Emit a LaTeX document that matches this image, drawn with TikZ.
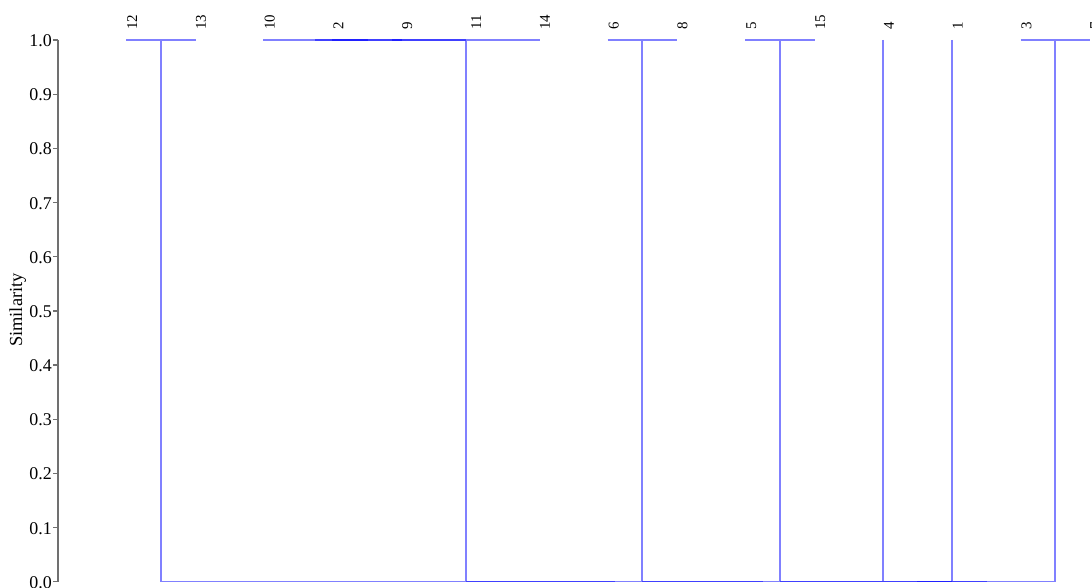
\documentclass[tikz,border=0pt]{standalone}
\usepackage{fontspec}
\setmainfont{Liberation Serif}
\definecolor{dendA}{RGB}{128,128,255}
\definecolor{dendB}{RGB}{64,64,255}
\definecolor{dendC}{RGB}{32,32,255}
\definecolor{axisgray}{RGB}{112,112,112}
\tikzset{
  seg/.style={draw=dendA, line width=1.5bp},
  segB/.style={draw=dendB, line width=1.5bp},
  segC/.style={draw=dendC, line width=1.5bp},
  leaflabel/.style={rotate=90, anchor=base west, inner sep=0pt, font=\fontsize{15}{15}\selectfont},
  ticklabel/.style={anchor=east, inner sep=0pt, font=\fontsize{18}{18}\selectfont},
  axisline/.style={draw=axisgray, line width=1.3bp},
}
\begin{document}
\begin{tikzpicture}[x=1bp,y=-1bp]
\useasboundingbox (0,0) rectangle (1092,588);
% axis
\coordinate (ax0) at (58,581.7);
\coordinate (ax1) at (58,40);
\draw[axisline] (ax0) -- (ax1);
\foreach \v/\t in {0/0.0,1/0.1,2/0.2,3/0.3,4/0.4,5/0.5,6/0.6,7/0.7,8/0.8,9/0.9,10/1.0}{
  \coordinate (tk\v) at (58,{581.7-54.17*\v});
  \coordinate (tl\v) at (53,{581.7-54.17*\v});
  \draw[axisline] (tk\v) -- (tl\v);
  \node[ticklabel] (lab\v) at (52,{582.5-54.17*\v}) {\t};
}
\node[rotate=90, anchor=base, inner sep=0pt, font=\fontsize{18.5}{18.5}\selectfont] (ylab) at (22,310) {Similarity};
% leaf labels
\foreach \k/\n in {0/12,1/13,2/10,3/2,4/9,5/11,6/14,7/6,8/8,9/5,10/15,11/4,12/1,13/3,14/7}{
  \node[leaflabel] (leaf\n) at ({126+68.8*\k+11},30) {\n};
}
% verticals
\foreach \n/\x in {v1/161, v2/466, v3/642, v4/780, v5/883, v6/952, v7/1055}{
  \coordinate (\n t) at (\x,40);
  \coordinate (\n b) at (\x,581.7);
  \draw[seg] (\n t) -- (\n b);
}
% top horizontal bars
\foreach \n/\a/\b in {a/126/196, c/607.5/677, d/745/814.5, e/1020.5/1090}{
  \coordinate (h\n1) at (\a,40);
  \coordinate (h\n2) at (\b,40);
  \draw[seg] (h\n1) -- (h\n2);
}
% cluster 10..14 (darker where branches overlap)
\coordinate (b1s) at (263,40);  \coordinate (b1e) at (540,40);
\coordinate (b2s) at (315,40);  \coordinate (b2e) at (466,40);
\coordinate (b3s) at (332,40);  \coordinate (b3e) at (368,40);
\coordinate (b4s) at (392,40);  \coordinate (b4e) at (402,40);
\draw[seg] (b1s) -- (b1e);
\draw[segB] (b2s) -- (b2e);
\draw[segC] (b3s) -- (b3e);
\draw[segC] (b4s) -- (b4e);
% bottom bar (darker where branches overlap)
\coordinate (w1s) at (161,581.7); \coordinate (w1e) at (1055,581.7);
\coordinate (w2s) at (466,581.7); \coordinate (w2e) at (615,581.7);
\coordinate (w3s) at (642,581.7); \coordinate (w3e) at (763,581.7);
\coordinate (w4s) at (780,581.7); \coordinate (w4e) at (987,581.7);
\coordinate (w5s) at (917,581.7); \coordinate (w5e) at (952,581.7);
\draw[seg] (w1s) -- (w1e);
\draw[segB] (w2s) -- (w2e);
\draw[segB] (w3s) -- (w3e);
\draw[segB] (w4s) -- (w4e);
\draw[segC] (w5s) -- (w5e);
\end{tikzpicture}
\end{document}
